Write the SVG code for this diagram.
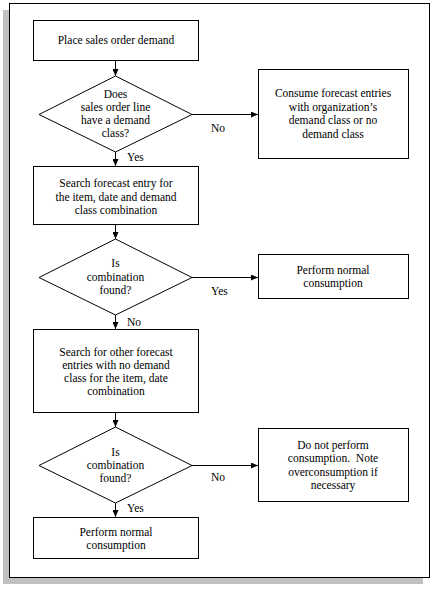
<svg xmlns="http://www.w3.org/2000/svg" width="433" height="589" viewBox="0 0 433 589">
<style>
.sh{fill:#c0c0c0}
.fr{fill:#fff;stroke:#000;stroke-width:1}
.n{fill:#fff;stroke:#000;stroke-width:1}
.c{stroke:#000;stroke-width:1;fill:none;marker-end:url(#ah)}
text{font-family:"Liberation Serif","Times New Roman",serif;font-size:11.5px;fill:#000;text-anchor:middle;white-space:pre}
.l{text-anchor:start}
</style>
<defs>
<marker id="ah" markerUnits="userSpaceOnUse" markerWidth="7" markerHeight="6" refX="7" refY="3" orient="auto">
<path d="M0,0 L7,3 L0,6 z" fill="#000"/>
</marker>
</defs>
<rect class="sh" x="3" y="10" width="420" height="574"/>
<rect class="fr" x="9.5" y="3.5" width="420" height="574"/>
<g id="connectors">
<line class="c" x1="115.5" y1="60" x2="115.5" y2="76"/>
<line class="c" x1="192" y1="114.5" x2="258" y2="114.5"/>
<line class="c" x1="115.5" y1="152" x2="115.5" y2="166"/>
<line class="c" x1="115.5" y1="225" x2="115.5" y2="239"/>
<line class="c" x1="192" y1="277.5" x2="258" y2="277.5"/>
<line class="c" x1="115.5" y1="315" x2="115.5" y2="329"/>
<line class="c" x1="115.5" y1="413" x2="115.5" y2="427"/>
<line class="c" x1="192" y1="465.5" x2="258" y2="465.5"/>
<line class="c" x1="115.5" y1="503" x2="115.5" y2="517"/>
<text class="l" x="211" y="132">No</text>
<text class="l" x="127" y="161">Yes</text>
<text class="l" x="211" y="295">Yes</text>
<text class="l" x="127" y="326">No</text>
<text class="l" x="211" y="481">No</text>
<text class="l" x="127" y="512">Yes</text>
</g>
<g id="n1">
<rect class="n" x="33.5" y="20.5" width="165" height="40"/>
<text x="116" y="44">Place sales order demand</text>
</g>
<g id="d1">
<polygon class="n" points="115.5,76 192,114.5 115.5,152 39,114.5"/>
<text x="115.5" y="98">Does</text>
<text x="115.5" y="111">sales order line</text>
<text x="115.5" y="124">have a demand</text>
<text x="115.5" y="137">class?</text>
</g>
<g id="n2">
<rect class="n" x="258.5" y="69.5" width="150" height="89"/>
<text x="333" y="97">Consume forecast entries</text>
<text x="333" y="110.5">with organization’s</text>
<text x="333" y="124">demand class or no</text>
<text x="333" y="137.5">demand class</text>
</g>
<g id="n3">
<rect class="n" x="33.5" y="166.5" width="165" height="58"/>
<text x="116" y="187">Search forecast entry for</text>
<text x="116" y="200.5">the item, date and demand</text>
<text x="116" y="214">class combination</text>
</g>
<g id="d2">
<polygon class="n" points="115.5,239 192,277.5 115.5,315 39,277.5"/>
<text x="115.5" y="267">Is</text>
<text x="115.5" y="280.5">combination</text>
<text x="115.5" y="294">found?</text>
</g>
<g id="n4">
<rect class="n" x="258.5" y="254.5" width="150" height="44"/>
<text x="333" y="273.5">Perform normal</text>
<text x="333" y="287">consumption</text>
</g>
<g id="n5">
<rect class="n" x="33.5" y="329.5" width="165" height="83"/>
<text x="116" y="356">Search for other forecast</text>
<text x="116" y="369">entries with no demand</text>
<text x="116" y="382">class for the item, date</text>
<text x="116" y="395">combination</text>
</g>
<g id="d3">
<polygon class="n" points="115.5,427 192,465.5 115.5,503 39,465.5"/>
<text x="115.5" y="455.5">Is</text>
<text x="115.5" y="469">combination</text>
<text x="115.5" y="482">found?</text>
</g>
<g id="n6">
<rect class="n" x="258.5" y="428.5" width="150" height="73"/>
<text x="333" y="449">Do not perform</text>
<text x="333" y="462">consumption.  Note</text>
<text x="333" y="475.5">overconsumption if</text>
<text x="333" y="489">necessary</text>
</g>
<g id="n7">
<rect class="n" x="33.5" y="517.5" width="165" height="41"/>
<text x="116" y="535.5">Perform normal</text>
<text x="116" y="549">consumption</text>
</g>
</svg>
